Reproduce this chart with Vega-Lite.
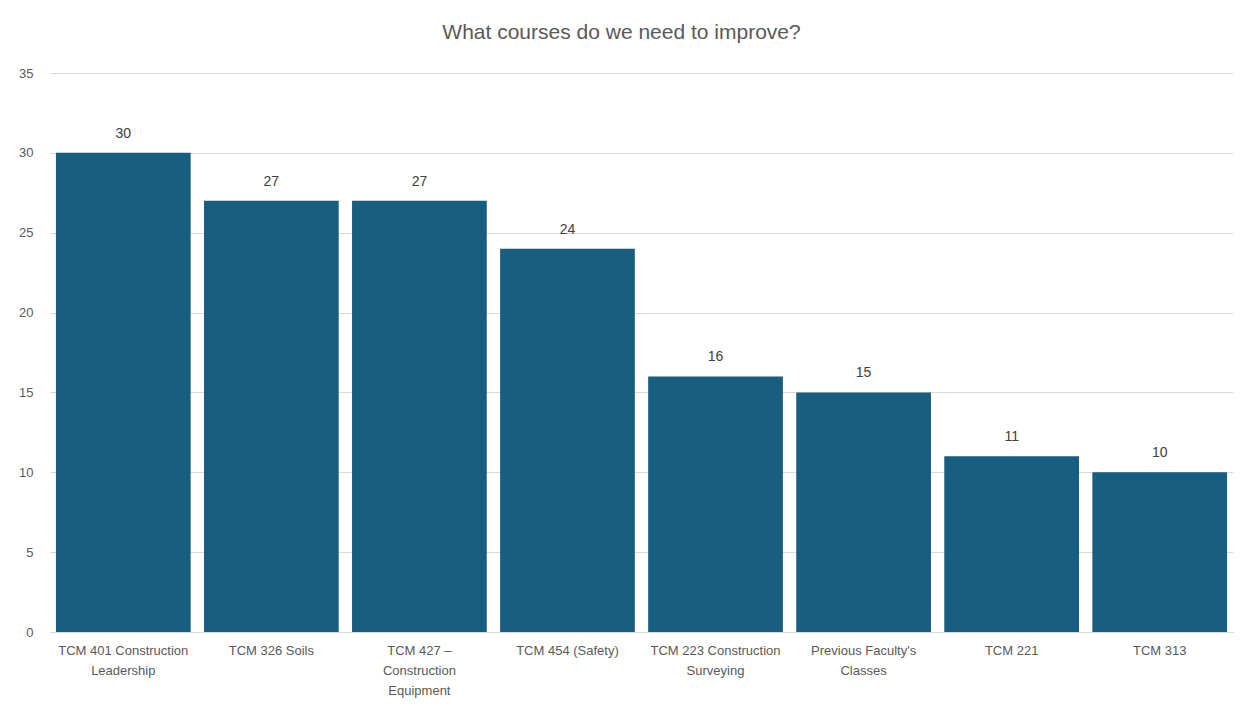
{
  "$schema": "https://vega.github.io/schema/vega-lite/v6.json",
  "width": 1183,
  "height": 559,
  "autosize": {"type": "none"},
  "padding": {"left": 50, "top": 73, "right": 16, "bottom": 76},
  "background": "white",
  "title": {
    "text": "What courses do we need to improve?",
    "anchor": "middle",
    "fontSize": 21,
    "font": "Liberation Sans Narrow, Arial Narrow, Liberation Sans, sans-serif",
    "fontWeight": "normal",
    "color": "#595959",
    "offset": 24,
    "dx": -20
  },
  "data": {
    "values": [
      {"course": "TCM 401 Construction Leadership", "count": 30},
      {"course": "TCM 326 Soils", "count": 27},
      {"course": "TCM 427 – Construction Equipment", "count": 27},
      {"course": "TCM 454 (Safety)", "count": 24},
      {"course": "TCM 223 Construction Surveying", "count": 16},
      {"course": "Previous Faculty's Classes", "count": 15},
      {"course": "TCM 221", "count": 11},
      {"course": "TCM 313", "count": 10}
    ]
  },
  "encoding": {
    "x": {
      "field": "course",
      "type": "nominal",
      "sort": null,
      "scale": {"paddingInner": 0.09, "paddingOuter": 0.04},
      "axis": {
        "title": null,
        "labelAngle": 0,
        "domain": true,
        "domainColor": "#d9d9d9",
        "ticks": false,
        "labelPadding": 12,
        "labelFontSize": 13,
        "labelColor": "#595959",
        "labelFont": "Liberation Sans Narrow, Arial Narrow, Liberation Sans, sans-serif",
        "labelLineHeight": 20,
        "labelBaseline": "top",
        "labelExpr": "datum.value == 'TCM 401 Construction Leadership' ? ['TCM 401 Construction', 'Leadership'] : datum.value == 'TCM 427 – Construction Equipment' ? ['TCM 427 –', 'Construction', 'Equipment'] : datum.value == 'TCM 223 Construction Surveying' ? ['TCM 223 Construction', 'Surveying'] : datum.value == \"Previous Faculty's Classes\" ? [\"Previous Faculty's\", 'Classes'] : datum.value"
      }
    },
    "y": {
      "field": "count",
      "type": "quantitative",
      "scale": {"domain": [0, 35], "nice": false},
      "axis": {
        "title": null,
        "values": [0, 5, 10, 15, 20, 25, 30, 35],
        "domain": false,
        "ticks": false,
        "labelPadding": 17,
        "labelFontSize": 13,
        "labelColor": "#595959",
        "labelFont": "Liberation Sans Narrow, Arial Narrow, Liberation Sans, sans-serif",
        "gridColor": "#d9d9d9",
        "gridWidth": 1
      }
    }
  },
  "layer": [
    {"mark": {"type": "bar", "color": "#185e80"}},
    {
      "mark": {
        "type": "text",
        "baseline": "bottom",
        "dy": -12,
        "fontSize": 14,
        "color": "#404040",
        "font": "Liberation Sans Narrow, Arial Narrow, Liberation Sans, sans-serif"
      },
      "encoding": {"text": {"field": "count", "type": "quantitative"}}
    }
  ],
  "config": {"view": {"stroke": null}}
}
